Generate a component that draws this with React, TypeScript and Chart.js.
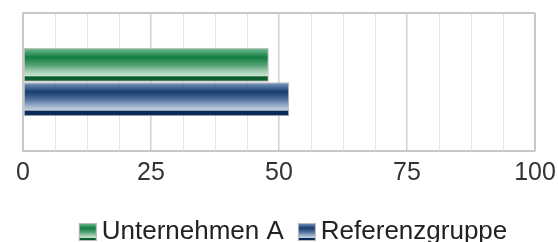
import React, { useEffect, useRef } from "react";
import { Chart, registerables } from "chart.js";

Chart.register(...registerables);

const categories = [""];
const seriesNames = ["Unternehmen A", "Referenzgruppe"];
const unternehmenA = [48];
const referenzgruppe = [52];
const majorTicks = [0, 25, 50, 75, 100];

const greenStops: [number, string][] = [
  [0, "#86c39e"],
  [0.1, "#52a878"],
  [0.28, "#137d40"],
  [0.5, "#4f9f70"],
  [0.7, "#a2ceb2"],
  [0.82, "#c8e3d1"],
  [0.86, "#0d5e30"],
  [1, "#0d5e30"],
];
const blueStops: [number, string][] = [
  [0, "#8aa2c2"],
  [0.1, "#5a7ba6"],
  [0.28, "#163d6e"],
  [0.5, "#4f6f9a"],
  [0.7, "#9fb2cc"],
  [0.82, "#c4d1e2"],
  [0.86, "#0c2a57"],
  [1, "#0c2a57"],
];
const allStops = [greenStops, blueStops];

function makeLegendImage(stops: [number, string][]) {
  const c = document.createElement("canvas");
  c.width = 34;
  c.height = 18;
  const ctx = c.getContext("2d")!;
  const g = ctx.createLinearGradient(0, 0, 0, 18);
  stops.forEach(([o, col]) => g.addColorStop(o, col));
  ctx.fillStyle = "#bbbbbb";
  ctx.fillRect(16, 0, 18, 18);
  ctx.fillStyle = g;
  ctx.fillRect(17, 1, 16, 16);
  return c;
}

const LEG_DX = 10;
const LEG_DY = 5;

const gradientPlugin = {
  id: "barGradient",
  beforeDraw(chart: any) {
    const lg = chart.legend;
    if (lg) {
      lg.left += LEG_DX;
      lg.right += LEG_DX;
      lg.top += LEG_DY;
      lg.bottom += LEG_DY;
    }
  },
  afterDraw(chart: any) {
    const lg = chart.legend;
    if (lg) {
      lg.left -= LEG_DX;
      lg.right -= LEG_DX;
      lg.top -= LEG_DY;
      lg.bottom -= LEG_DY;
    }
  },
  beforeDatasetsDraw(chart: any) {
    const ctx = chart.ctx;
    chart.data.datasets.forEach((_ds: any, i: number) => {
      const meta = chart.getDatasetMeta(i);
      meta.data.forEach((el: any) => {
        const { y, height } = el.getProps(["y", "height"], true);
        const top = y - height / 2;
        const g = ctx.createLinearGradient(0, top, 0, top + height);
        allStops[i].forEach(([o, c]) => g.addColorStop(o, c));
        el.options = { ...el.options, backgroundColor: g };
      });
    });
  },
};

export default function App() {
  const ref = useRef<HTMLCanvasElement>(null);
  useEffect(() => {
    const images = allStops.map(makeLegendImage);
    const chart = new Chart(ref.current!, {
      type: "bar",
      data: {
        labels: categories,
        datasets: [
          {
            label: seriesNames[0],
            data: unternehmenA,
            backgroundColor: "#137d40",
            borderColor: "#b8b8b8",
            borderWidth: 1,
            borderSkipped: false,
            categoryPercentage: 0.5,
            barPercentage: 0.98,
          },
          {
            label: seriesNames[1],
            data: referenzgruppe,
            backgroundColor: "#163d6e",
            borderColor: "#b8b8b8",
            borderWidth: 1,
            borderSkipped: false,
            categoryPercentage: 0.5,
            barPercentage: 0.98,
          },
        ],
      },
      options: {
        indexAxis: "y",
        animation: false,
        responsive: true,
        maintainAspectRatio: false,
        layout: { padding: { left: 23, right: 23, top: 13, bottom: 0 } },
        plugins: {
          tooltip: { enabled: false },
          legend: {
            position: "bottom",
            labels: {
              usePointStyle: true,
              boxWidth: 18,
              boxHeight: 18,
              padding: 6,
              color: "#222222",
              font: { family: "'Liberation Sans', Arial, sans-serif", size: 26 },
              generateLabels: (ch: any) =>
                ch.data.datasets.map((ds: any, i: number) => ({
                  text: ds.label,
                  fillStyle: ds.backgroundColor,
                  strokeStyle: "#bbbbbb",
                  lineWidth: 0,
                  pointStyle: images[i],
                  hidden: false,
                  datasetIndex: i,
                  fontColor: "#222222",
                })),
            },
          },
        },
        scales: {
          x: {
            type: "linear",
            min: 0,
            max: 100,
            afterFit: (scale: any) => {
              scale.height = 57;
            },
            ticks: {
              stepSize: 6.25,
              autoSkip: false,
              maxRotation: 0,
              padding: 2,
              color: "#333333",
              font: { family: "'Liberation Sans', Arial, sans-serif", size: 25, lineHeight: 1.6 },
              callback: (v: any) => (majorTicks.includes(Number(v)) ? String(v) : ""),
            },
            grid: {
              drawTicks: false,
              color: (c: any) =>
                c.tick && c.tick.value === 100
                  ? "#c8c8c8"
                  : c.tick && majorTicks.includes(c.tick.value)
                  ? "#d2d2d2"
                  : "#e6e6e6",
              lineWidth: (c: any) =>
                c.tick && c.tick.value === 100 ? 2 : c.tick && majorTicks.includes(c.tick.value) ? 1.5 : 1,
            },
            border: { display: true, color: "#c8c8c8", width: 2 },
          },
          y: {
            type: "category",
            ticks: { display: false },
            grid: { drawTicks: false, color: "#c8c8c8", lineWidth: 2 },
            border: { display: true, color: "#c8c8c8", width: 2 },
          },
        },
      },
      plugins: [gradientPlugin],
    } as any);
    return () => chart.destroy();
  }, []);
  return (
    <div style={{ position: "fixed", left: 0, top: 0, width: 558, height: 250, background: "#fff" }}>
      <canvas ref={ref} />
    </div>
  );
}
